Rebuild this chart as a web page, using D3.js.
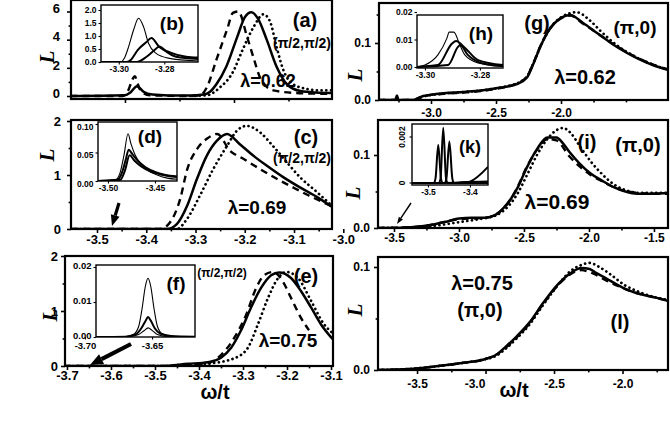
<!DOCTYPE html>
<html><head><meta charset="utf-8">
<script src="https://cdn.jsdelivr.net/npm/d3@7"></script>
<style>body{margin:0;background:#fff}svg{display:block}</style>
</head><body>
<svg id="c" width="670" height="438"></svg>
<script>
// ---------------- DATA ----------------
// panel (a) (pi/2,pi/2), lambda=0.62
const a_solid  = [[-3.35,0],[-3.30,0.05],[-3.295,0.25],[-3.289,0.7],[-3.283,0.3],[-3.275,0.1],[-3.26,0.04],[-3.24,0.03],[-3.228,0.1],[-3.222,0.3],[-3.216,0.85],[-3.207,2.1],[-3.197,4.2],[-3.19,5.6],[-3.184,5.95],[-3.178,5.5],[-3.17,4.0],[-3.161,2.1],[-3.151,0.8],[-3.139,0.35],[-3.125,0.25],[-3.11,0.22]];
const a_dashed = [[-3.35,0],[-3.302,0],[-3.297,0.4],[-3.293,1.2],[-3.291,1.4],[-3.288,0.8],[-3.285,0.3],[-3.277,0.05],[-3.24,0],[-3.231,0.05],[-3.225,0.6],[-3.216,2.6],[-3.206,4.8],[-3.201,5.9],[-3.196,6.0],[-3.188,4.2],[-3.182,2.7],[-3.176,1.3],[-3.164,0.4],[-3.14,0.2],[-3.11,0.15]];
const a_dotted = [[-3.24,0],[-3.225,0.05],[-3.213,0.6],[-3.201,1.7],[-3.192,3.3],[-3.182,4.9],[-3.173,5.8],[-3.167,5.3],[-3.161,3.5],[-3.155,1.9],[-3.146,0.85],[-3.133,0.5],[-3.121,0.4],[-3.11,0.4]];
// inset (b)
const b_thin   = [[-3.3078,0],[-3.2991,0],[-3.2975,0.15],[-3.2957,0.58],[-3.2935,1.23],[-3.2913,1.68],[-3.2891,1.35],[-3.287,0.73],[-3.2839,0.35],[-3.2783,0.15],[-3.2652,0.04]];
const b_mid    = [[-3.3078,0],[-3.2965,0],[-3.2945,0.1],[-3.2917,0.46],[-3.2878,0.77],[-3.2857,0.92],[-3.2822,0.58],[-3.277,0.35],[-3.2704,0.2],[-3.2652,0.17]];
const b_low    = [[-3.3078,0],[-3.2922,0],[-3.2878,0.2],[-3.2843,0.46],[-3.2822,0.6],[-3.2791,0.4],[-3.2748,0.2],[-3.2652,0.12]];
// panel (c) (pi/2,pi/2), lambda=0.69
const c_solid  = [[-3.553,0],[-3.358,0],[-3.338,0.09],[-3.317,0.43],[-3.297,0.93],[-3.277,1.36],[-3.256,1.64],[-3.236,1.76],[-3.21,1.57],[-3.183,1.36],[-3.155,1.17],[-3.122,0.96],[-3.088,0.77],[-3.053,0.59],[-3.023,0.41]];
const c_dashed = [[-3.553,0],[-3.372,0],[-3.352,0.12],[-3.331,0.56],[-3.317,1.1],[-3.297,1.48],[-3.277,1.67],[-3.256,1.76],[-3.23,1.45],[-3.203,1.3],[-3.169,1.11],[-3.135,0.93],[-3.102,0.77],[-3.07,0.62],[-3.023,0.42]];
const c_dotted = [[-3.553,0],[-3.338,0],[-3.317,0.19],[-3.291,0.62],[-3.264,1.11],[-3.236,1.54],[-3.216,1.82],[-3.196,1.91],[-3.169,1.79],[-3.143,1.54],[-3.114,1.23],[-3.088,0.96],[-3.053,0.68],[-3.023,0.43]];
// inset (d)
const d_thin   = [[-3.5106,0],[-3.492,0.002],[-3.487,0.015],[-3.483,0.045],[-3.4787,0.083],[-3.4755,0.065],[-3.471,0.045],[-3.465,0.03],[-3.457,0.018],[-3.447,0.01],[-3.437,0.005],[-3.4266,0.003]];
const d_mid    = [[-3.5106,0],[-3.49,0.002],[-3.485,0.015],[-3.481,0.038],[-3.478,0.055],[-3.474,0.047],[-3.468,0.035],[-3.46,0.024],[-3.45,0.016],[-3.44,0.011],[-3.4266,0.008]];
const d_low    = [[-3.5106,0],[-3.487,0.002],[-3.482,0.018],[-3.477,0.045],[-3.472,0.036],[-3.465,0.026],[-3.455,0.017],[-3.445,0.012],[-3.4266,0.007]];
// panel (e) (pi/2,pi/2), lambda=0.75
const e_solid  = [[-3.707,0],[-3.486,0],[-3.425,0.04],[-3.38,0.07],[-3.35,0.15],[-3.327,0.33],[-3.305,0.64],[-3.282,1.06],[-3.259,1.42],[-3.236,1.65],[-3.218,1.7],[-3.191,1.6],[-3.168,1.36],[-3.145,1.06],[-3.123,0.76],[-3.093,0.46]];
const e_dashed = [[-3.707,0],[-3.46,0],[-3.44,0.03],[-3.395,0.03],[-3.35,0.2],[-3.32,0.51],[-3.293,0.93],[-3.27,1.42],[-3.252,1.65],[-3.232,1.71],[-3.209,1.53],[-3.191,1.24],[-3.168,0.87],[-3.15,0.65]];
const e_dotted = [[-3.707,0],[-3.45,0],[-3.38,0.04],[-3.32,0.14],[-3.289,0.33],[-3.266,0.76],[-3.243,1.24],[-3.22,1.6],[-3.202,1.71],[-3.175,1.6],[-3.145,1.18],[-3.116,0.76],[-3.093,0.58]];
// inset (f)
const f_thin   = [[-3.6918,0],[-3.672,0],[-3.664,0.0007],[-3.66,0.003],[-3.6575,0.008],[-3.655,0.0145],[-3.653,0.0168],[-3.651,0.0145],[-3.6485,0.008],[-3.646,0.003],[-3.642,0.0008],[-3.635,0.0002],[-3.618,0]];
const f_mid    = [[-3.6918,0],[-3.67,0.0001],[-3.662,0.0008],[-3.658,0.0025],[-3.655,0.0045],[-3.653,0.0057],[-3.651,0.0047],[-3.648,0.0025],[-3.644,0.001],[-3.636,0.0003],[-3.618,0.0001]];
const f_low    = [[-3.6918,0],[-3.668,0.0001],[-3.66,0.0007],[-3.656,0.0018],[-3.653,0.0026],[-3.65,0.0019],[-3.646,0.0007],[-3.638,0.0001],[-3.618,0]];
// panel (g) (pi,0), lambda=0.62
const g_solid  = [[-3.40,0],[-3.275,0],[-3.262,0.008],[-3.25,0],[-3.14,0],[-3.09,0.004],[-3.06,0.007],[-3.01,0.009],[-2.9,0.012],[-2.75,0.014],[-2.6,0.017],[-2.49,0.021],[-2.4,0.024],[-2.34,0.028],[-2.26,0.04],[-2.21,0.065],[-2.16,0.093],[-2.1,0.12],[-2.0,0.144],[-1.93,0.149],[-1.83,0.135],[-1.72,0.117],[-1.57,0.093],[-1.42,0.074],[-1.29,0.061],[-1.18,0.053]];
const g_dashed = [[-3.40,0],[-3.14,0],[-3.08,0.005],[-3.0,0.009],[-2.9,0.011],[-2.75,0.013],[-2.6,0.016],[-2.49,0.02],[-2.4,0.024],[-2.34,0.029],[-2.26,0.042],[-2.21,0.066],[-2.16,0.094],[-2.1,0.12],[-2.0,0.143],[-1.93,0.148],[-1.83,0.134],[-1.72,0.117],[-1.57,0.094],[-1.42,0.075],[-1.29,0.062],[-1.18,0.054]];
const g_dotted = [[-3.40,0],[-3.14,0],[-3.06,0.006],[-2.9,0.011],[-2.75,0.014],[-2.6,0.017],[-2.49,0.021],[-2.4,0.025],[-2.33,0.03],[-2.26,0.042],[-2.21,0.066],[-2.16,0.093],[-2.1,0.12],[-2.0,0.145],[-1.88,0.154],[-1.78,0.14],[-1.7,0.122],[-1.57,0.096],[-1.42,0.075],[-1.29,0.062],[-1.18,0.053]];
// inset (h)
const h_thin   = [[-3.3029,0],[-3.3,0.0007],[-3.2953,0.0044],[-3.292,0.0105],[-3.2912,0.0127],[-3.2895,0.0127],[-3.2873,0.008],[-3.2855,0.0044],[-3.2807,0.0015],[-3.2716,0.0002]];
const h_mid    = [[-3.3029,0],[-3.2953,0.0007],[-3.2902,0.0085],[-3.2887,0.0095],[-3.2855,0.007],[-3.2807,0.0025],[-3.2716,0.0007]];
const h_low    = [[-3.3029,0],[-3.2916,0.0007],[-3.288,0.0073],[-3.2872,0.008],[-3.2844,0.0044],[-3.2782,0.0011],[-3.2716,0.0004]];
// panel (i) (pi,0), lambda=0.69
const i_solid  = [[-3.62,0],[-3.48,0],[-3.3,0.002],[-3.22,0.004],[-3.09,0.009],[-3.0,0.013],[-2.9,0.014],[-2.8,0.014],[-2.72,0.018],[-2.66,0.027],[-2.6,0.04],[-2.55,0.055],[-2.48,0.082],[-2.4,0.108],[-2.32,0.124],[-2.25,0.124],[-2.2,0.116],[-2.15,0.104],[-2.07,0.088],[-1.99,0.075],[-1.9,0.065],[-1.81,0.056],[-1.72,0.05],[-1.63,0.047],[-1.5,0.047],[-1.39,0.048]];
const i_dashed = [[-3.62,0],[-3.3,0.002],[-3.0,0.012],[-2.8,0.014],[-2.66,0.026],[-2.55,0.056],[-2.48,0.083],[-2.4,0.107],[-2.32,0.122],[-2.25,0.12],[-2.15,0.098],[-2.07,0.084],[-1.99,0.073],[-1.9,0.064],[-1.81,0.056],[-1.7,0.05],[-1.5,0.047],[-1.39,0.047]];
const i_dotted = [[-3.62,0],[-3.3,0.001],[-3.0,0.008],[-2.85,0.012],[-2.72,0.017],[-2.62,0.03],[-2.55,0.047],[-2.47,0.075],[-2.4,0.1],[-2.32,0.122],[-2.25,0.134],[-2.2,0.137],[-2.14,0.13],[-2.07,0.112],[-1.99,0.092],[-1.9,0.074],[-1.81,0.06],[-1.72,0.052],[-1.6,0.048],[-1.39,0.048]];
// inset (k)
const k_a = [[-3.538,0],[-3.474,0],[-3.47,0.0002],[-3.4636,0.0024],[-3.457,0.0002],[-3.453,0],[-3.357,0]];
const k_b = [[-3.538,0],[-3.486,0],[-3.482,0.0002],[-3.4755,0.00165],[-3.469,0.0002],[-3.465,0],[-3.41,0.00002],[-3.4,0.00006],[-3.357,0.0007]];
const k_c = [[-3.538,0],[-3.46,0],[-3.456,0.0002],[-3.449,0.0018],[-3.442,0.0002],[-3.438,0],[-3.42,0.00003],[-3.357,0.00006]];
// panel (l) (pi,0), lambda=0.75
const l_solid  = [[-3.785,0],[-3.55,0.001],[-3.4,0.003],[-3.16,0.007],[-3.02,0.01],[-2.92,0.015],[-2.85,0.023],[-2.77,0.033],[-2.68,0.046],[-2.58,0.065],[-2.48,0.082],[-2.38,0.094],[-2.3,0.099],[-2.24,0.098],[-2.19,0.094],[-2.12,0.089],[-2.04,0.083],[-1.95,0.077],[-1.85,0.073],[-1.75,0.07],[-1.668,0.067]];
const l_dashed = [[-3.785,0],[-3.55,0.001],[-3.4,0.003],[-3.16,0.007],[-3.02,0.01],[-2.92,0.015],[-2.85,0.022],[-2.77,0.032],[-2.68,0.045],[-2.58,0.064],[-2.48,0.081],[-2.38,0.093],[-2.3,0.097],[-2.22,0.094],[-2.12,0.087],[-2.04,0.082],[-1.95,0.077],[-1.85,0.073],[-1.75,0.07],[-1.668,0.067]];
const l_dotted = [[-3.785,0],[-3.55,0.001],[-3.4,0.003],[-3.16,0.007],[-3.02,0.01],[-2.92,0.014],[-2.85,0.021],[-2.77,0.031],[-2.68,0.044],[-2.58,0.063],[-2.48,0.081],[-2.38,0.096],[-2.3,0.102],[-2.24,0.104],[-2.17,0.1],[-2.08,0.092],[-1.98,0.082],[-1.9,0.077],[-1.8,0.072],[-1.668,0.068]];

// tick values
const a_xticks = [-3.3,-3.2], a_yticks = [0,2,4,6];
const b_xticks = [-3.30,-3.28], b_yticks = [0,0.5,1.0,1.5,2.0];
const c_xticks = [-3.5,-3.4,-3.3,-3.2,-3.1,-3.0], c_yticks = [0,1,2];
const d_xticks = [-3.50,-3.45], d_yticks = [0,0.05,0.10];
const e_xticks = [-3.7,-3.6,-3.5,-3.4,-3.3,-3.2,-3.1], e_yticks = [0,1,2];
const f_xticks = [-3.70,-3.65], f_yticks = [0,0.01,0.02];
const g_xticks = [-3.0,-2.5,-2.0], g_yticks = [0,0.1];
const h_xticks = [-3.30,-3.28], h_yticks = [0,0.01,0.02];
const i_xticks = [-3.5,-3.0,-2.5,-2.0,-1.5], i_yticks = [0,0.1];
const k_xticks = [-3.5,-3.4], k_yticks = [0,0.002];
const l_xticks = [-3.5,-3.0,-2.5,-2.0], l_yticks = [0,0.1];

// ---------------- DRAWING ----------------
const svg = d3.select('#c');
const FONT = "'Liberation Sans', Arial, Helvetica, sans-serif";
let cid = 0;
const SOLID = {w:2.5}, DASH = {w:2.4, dash:'7,5'}, DOT = {w:2.7, dash:'0.1,4.6', cap:'round'};
const THIN = {w:1.1}, THICK = {w:2.0};

function panel(o) {
  const g = svg.append('g');
  const x = d3.scaleLinear().domain(o.xd).range([o.x0, o.x1]);
  const y = d3.scaleLinear().domain(o.yd).range(o.yr);
  if (o.inset) g.append('rect').attr('x', o.x0).attr('y', o.y0).attr('width', o.x1 - o.x0).attr('height', o.y1 - o.y0).attr('fill', '#fff');
  const id = 'clip' + (cid++);
  svg.append('clipPath').attr('id', id).append('rect').attr('x', o.x0).attr('y', o.y0 - 1).attr('width', o.x1 - o.x0).attr('height', o.y1 - o.y0 + 1);
  const cg = g.append('g').attr('clip-path', `url(#${id})`);
  const line = d3.line().x(d => x(d[0])).y(d => y(d[1])).curve(d3.curveMonotoneX);
  o.series.forEach(s => {
    cg.append('path').datum(s.data).attr('d', line).attr('fill', 'none').attr('stroke', '#000')
      .attr('stroke-width', s.st.w).attr('stroke-dasharray', s.st.dash || null)
      .attr('stroke-linecap', s.st.cap || 'butt').attr('stroke-linejoin', 'round');
  });
  const fs = o.fs;
  // x axis
  const gx = g.append('g').attr('transform', `translate(0,${o.y1})`)
    .call(d3.axisBottom(x).tickValues(o.xt).tickSize(o.ts).tickSizeOuter(0).tickPadding(o.xpad)
      .tickFormat(o.xlab === false ? '' : o.xf));
  gx.select('.domain').remove();
  gx.attr('font-family', FONT).attr('font-size', fs).attr('font-weight', 'bold');
  gx.selectAll('line').attr('stroke-width', o.tw);
  gx.selectAll('text').attr('fill', '#000');
  if (o.xdx) gx.selectAll('text').attr('dx', d => (o.xdx[d] || 0));
  if (o.xm) {
    const gm = g.append('g').attr('transform', `translate(0,${o.y1})`)
      .call(d3.axisBottom(x).tickValues(o.xm).tickSize(o.ts * 0.6).tickSizeOuter(0).tickFormat(''));
    gm.select('.domain').remove(); gm.selectAll('line').attr('stroke-width', o.tw);
  }
  // y axis
  const gy = g.append('g').attr('transform', `translate(${o.x0},0)`)
    .call(d3.axisLeft(y).tickValues(o.yt).tickSize(o.ts).tickSizeOuter(0).tickPadding(o.ypad).tickFormat(o.yf));
  gy.select('.domain').remove();
  gy.attr('font-family', FONT).attr('font-size', fs).attr('font-weight', 'bold');
  gy.selectAll('line').attr('stroke-width', o.tw);
  gy.selectAll('text').attr('fill', '#000').attr('dy', o.ydy || '0.32em');
  if (o.yrot) {
    gy.selectAll('text').attr('text-anchor', 'middle').attr('dy', null)
      .attr('transform', function(d){ return `translate(${-o.ts - o.ypad},${y(d)}) rotate(-90)`; })
      .attr('x', 0).attr('y', 0);
    gy.selectAll('.tick').attr('transform', 'translate(0,0)');
    gy.selectAll('.tick line').attr('y1', d => y(d)).attr('y2', d => y(d));
  }
  if (o.ym) {
    const gm = g.append('g').attr('transform', `translate(${o.x0},0)`)
      .call(d3.axisLeft(y).tickValues(o.ym).tickSize(o.ts * 0.6).tickSizeOuter(0).tickFormat(''));
    gm.select('.domain').remove(); gm.selectAll('line').attr('stroke-width', o.tw);
  }
  // frame
  g.append('rect').attr('x', o.x0).attr('y', o.y0).attr('width', o.x1 - o.x0).attr('height', o.y1 - o.y0)
    .attr('fill', 'none').attr('stroke', '#000').attr('stroke-width', o.bw);
  return {x, y};
}

const f1 = d => d.toFixed(1), f0 = d => d.toFixed(0), f2 = d => d.toFixed(2), f3 = d => (d === 0 ? '0' : d.toFixed(3));
const MAIN = {fs: 13, ts: 4, tw: 1.6, bw: 2.2, xpad: 2, ypad: 4};
const INS = {fs: 8.5, ts: 2.5, tw: 1.1, bw: 1.4, xpad: 1.5, ypad: 2, inset: true};

// (a)
panel(Object.assign({}, MAIN, {x0:71, x1:332, y0:0, y1:99, xd:[-3.3495,-3.1101], yd:[0,6], yr:[96,11.5],
  xt:a_xticks, xm:[-3.25,-3.15], xlab:false, yt:a_yticks, ym:[1,3,5], yf:f0, ydy:'0.1em', ypad:7,
  series:[{data:a_dotted, st:DOT},{data:a_dashed, st:DASH},{data:a_solid, st:SOLID}]}));
// (b)
panel(Object.assign({}, INS, {x0:101, x1:198, y0:5, y1:62, xd:[-3.3078,-3.2652], yd:[0,2], yr:[62,10],
  xt:b_xticks, xf:f2, yt:b_yticks, yf:f1,
  series:[{data:b_thin, st:THIN},{data:b_mid, st:THICK},{data:b_low, st:THICK}]}));
// (c)
panel(Object.assign({}, MAIN, {x0:71, x1:332, y0:120, y1:229, xd:[-3.5528,-3.0229], yd:[0,2], yr:[229,121],
  xt:c_xticks, xm:[-3.45,-3.35,-3.25,-3.15,-3.05], xf:f1, yt:c_yticks, ym:[0.5,1.5], yf:f0, ypad:6,
  series:[{data:c_dotted, st:DOT},{data:c_dashed, st:DASH},{data:c_solid, st:SOLID}]}));
// (d)
panel(Object.assign({}, INS, {x0:98, x1:177, y0:122, y1:181, xd:[-3.5106,-3.4266], yd:[0,0.10], yr:[181,124],
  xt:d_xticks, xf:f2, yt:d_yticks, yf:f2, ydy:'0.6em',
  series:[{data:d_thin, st:THIN},{data:d_mid, st:THICK},{data:d_low, st:THICK}]}));
// (e)
panel(Object.assign({}, MAIN, {x0:65, x1:333, y0:256, y1:366, xd:[-3.7045,-3.0955], yd:[0,2], yr:[366,256],
  xt:e_xticks, xm:[-3.65,-3.55,-3.45,-3.35,-3.25,-3.15], xf:f1, yt:e_yticks, ym:[0.5,1.5], yf:f0, ypad:3, xpad:1,
  series:[{data:e_dotted, st:DOT},{data:e_dashed, st:DASH},{data:e_solid, st:SOLID}]}));
// (f)
panel(Object.assign({}, INS, {x0:96, x1:195, y0:265, y1:337, xd:[-3.6918,-3.618], yd:[0,0.02], yr:[337,267],
  xt:f_xticks, xf:f2, yt:f_yticks, yf:f2, fs:9.5, xpad:3, ydy:'0.2em',
  series:[{data:f_thin, st:THIN},{data:f_mid, st:THICK},{data:f_low, st:THIN}]}));
// (g)
panel(Object.assign({}, MAIN, {x0:379, x1:668, y0:3, y1:100, xd:[-3.4,-1.177], yd:[0,0.1], yr:[100,43],
  xt:g_xticks, xm:[-3.25,-2.75,-2.25,-1.75,-1.5], xf:f1, yt:g_yticks, ym:[0.05,0.15], yf:f1, fs:12, xpad:4,
  series:[{data:g_dotted, st:DOT},{data:g_dashed, st:DASH},{data:g_solid, st:SOLID}]}));
// (h)
panel(Object.assign({}, INS, {x0:417, x1:503, y0:15, y1:68, xd:[-3.3029,-3.2716], yd:[0,0.02], yr:[67,12],
  xt:h_xticks, xf:f2, yt:h_yticks, yf:f2,
  series:[{data:h_thin, st:THIN},{data:h_mid, st:THICK},{data:h_low, st:THICK}]}));
// (i)
panel(Object.assign({}, MAIN, {x0:378, x1:668, y0:120, y1:228, xd:[-3.623,-1.392], yd:[0,0.1], yr:[228,155],
  xt:i_xticks, xm:[-3.25,-2.75,-2.25,-1.75], xf:f1, yt:i_yticks, ym:[0.05], yf:f1, fs:12, xpad:1,
  series:[{data:i_dotted, st:DOT},{data:i_dashed, st:DASH},{data:i_solid, st:SOLID}]}));
// (k)
panel(Object.assign({}, INS, {x0:412, x1:488, y0:124, y1:185, xd:[-3.538,-3.357], yd:[0,0.002], yr:[183,137],
  xt:k_xticks, xf:f1, yt:k_yticks, yf:f3, yrot:true, ypad:5,
  series:[{data:k_b, st:THICK},{data:k_c, st:THICK},{data:k_a, st:THICK}]}));
// (l)
panel(Object.assign({}, MAIN, {x0:378, x1:668, y0:257, y1:370, xd:[-3.785,-1.668], yd:[0,0.1], yr:[370,267],
  xt:l_xticks, xm:[-3.25,-2.75,-2.25,-1.75], xf:f1, yt:l_yticks, ym:[0.05], yf:f1, fs:12, xpad:5,
  xdx:{'-3':-11},
  series:[{data:l_dotted, st:DOT},{data:l_dashed, st:DASH},{data:l_solid, st:SOLID}]}));

// ---------------- ANNOTATIONS ----------------
function txt(s, x, y, size, opts) {
  opts = opts || {};
  svg.append('text').attr('x', x).attr('y', y).attr('text-anchor', opts.anchor || 'middle')
    .attr('font-family', opts.family || FONT).attr('font-size', size).attr('font-weight', 'bold')
    .attr('font-style', opts.style || 'normal').attr('fill', '#000').text(s);
}
function ylab(x, y) {
  svg.append('text').attr('transform', `translate(${x},${y}) rotate(-90)`).attr('text-anchor', 'middle')
    .attr('dominant-baseline', 'central').attr('font-family', "'Liberation Serif','Times New Roman',serif")
    .attr('font-size', 21).attr('font-weight', 'bold').attr('font-style', 'italic').attr('fill', '#000').text('L');
}
// left column
txt('(a)', 305, 27, 20); txt('(π/2,π/2)', 302, 48, 14); txt('λ=0.62', 268, 87, 18);
txt('(b)', 172, 30, 19);
txt('(c)', 306, 144, 20); txt('(π/2,π/2)', 302, 163, 14); txt('λ=0.69', 257, 214, 19);
txt('(d)', 150, 143, 19);
txt('(e)', 306, 283, 20); txt('(π/2,π/2)', 222, 277, 12); txt('λ=0.75', 288, 347, 19);
txt('(f)', 176, 290, 19);
txt('ω/t', 215, 399, 20);
// right column
txt('(g)', 537, 30, 20); txt('(π,0)', 635, 34, 19); txt('λ=0.62', 585, 84, 20);
txt('(h)', 481, 40, 19);
txt('(i)', 587, 149, 20); txt('(π,0)', 638, 152, 20); txt('λ=0.69', 557, 209, 21);
txt('(k)', 470, 153, 18);
txt('λ=0.75', 482, 290, 20); txt('(π,0)', 480, 317, 20); txt('(l)', 620, 329, 20);
txt('ω/t', 514, 397, 20);
ylab(47, 57); ylab(47, 155); ylab(50, 315);
ylab(355, 75); ylab(353, 193); ylab(355, 310);

// arrows
function arrow(x1, y1, x2, y2, w, hl, hw) {
  const a = Math.atan2(y2 - y1, x2 - x1);
  const bx = x2 - hl * Math.cos(a), by = y2 - hl * Math.sin(a);
  svg.append('line').attr('x1', x1).attr('y1', y1).attr('x2', bx).attr('y2', by)
    .attr('stroke', '#000').attr('stroke-width', w);
  const px = -Math.sin(a) * hw / 2, py = Math.cos(a) * hw / 2;
  svg.append('path').attr('d', `M${x2},${y2}L${bx + px},${by + py}L${bx - px},${by - py}Z`).attr('fill', '#000');
}
arrow(119, 203, 112, 226, 3.2, 11, 9);
arrow(131, 344, 90, 365, 4.2, 13, 11);
arrow(411, 203, 397, 224, 1.4, 7, 5);
</script>
</body></html>
